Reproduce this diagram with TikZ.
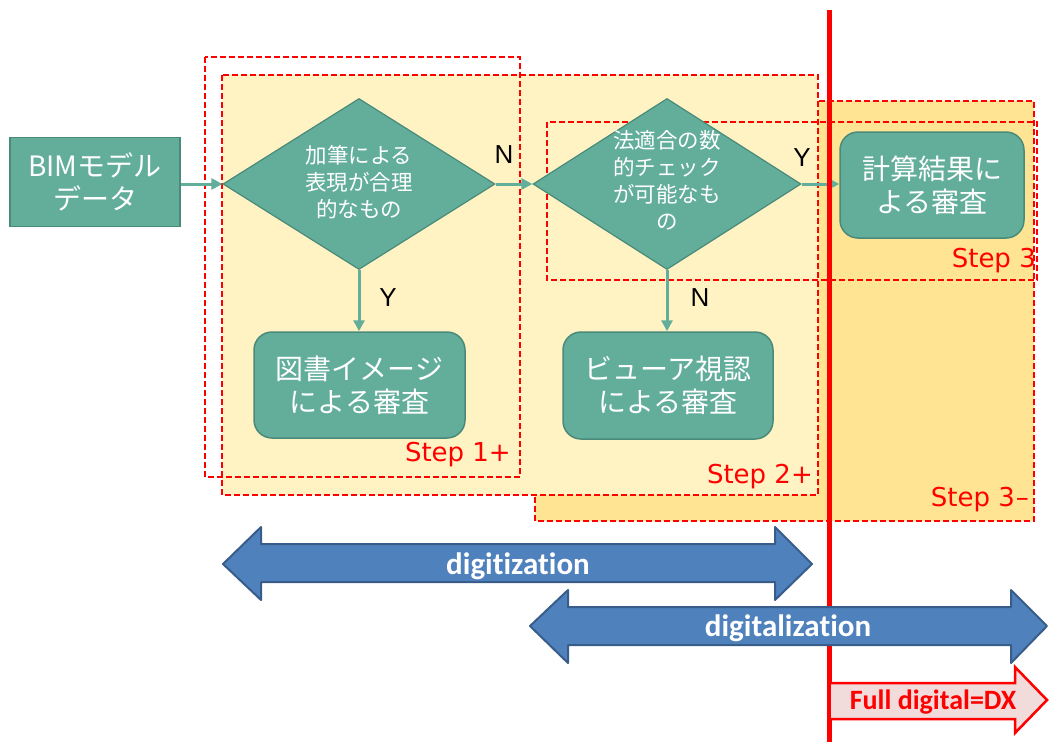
\documentclass[tikz,border=0pt]{standalone}
\usepackage{fontspec}
\usetikzlibrary{shapes.geometric,arrows.meta}
\newfontfamily\jpfont{Noto Sans CJK JP}
\newfontfamily\labfont{Liberation Sans}
\newfontfamily\stepfont{DejaVu Sans}
\newfontfamily\carfont[Ligatures=NoCommon]{Carlito}
\definecolor{teal1}{HTML}{62AE9B}
\definecolor{teal2}{HTML}{4A8A7A}
\definecolor{yel}{HTML}{FFF3C3}
\definecolor{ora}{HTML}{FFE494}
\definecolor{blue1}{HTML}{4F81BD}
\definecolor{blue2}{HTML}{385D8A}
\definecolor{pinkf}{HTML}{F2DCDB}
\tikzset{
  stepbox/.style={draw=red,line width=2pt,dash pattern=on 6pt off 3pt},
  proc/.style={draw=teal2,fill=teal1,line width=1.5pt,text=white,align=center,inner sep=0pt,
    font=\jpfont\fontsize{28pt}{33pt}\selectfont},
  dec/.style={diamond,draw=teal2,fill=teal1,line width=1.2pt,inner sep=0pt},
  dectext/.style={text=white,align=center,inner sep=0pt,
    font=\jpfont\fontsize{21.5pt}{27pt}\selectfont},
  conn/.style={draw=teal1,line width=3pt,-{Triangle[length=11pt,width=11pt]}},
  yn/.style={font=\labfont\fontsize{26pt}{30pt}\selectfont,text=black},
  steplab/.style={font=\stepfont\fontsize{26pt}{30pt}\selectfont,text=red,anchor=east,inner sep=0pt},
  bluearrow/.style={draw=blue2,fill=blue1,line width=2pt,line join=round},
  bluetext/.style={font=\carfont\bfseries\fontsize{31pt}{34pt}\selectfont,text=white}
}
\begin{document}
\begin{tikzpicture}[x=1pt,y=-1pt]
\useasboundingbox (0,0) rectangle (1049,742);
% step regions
\draw[stepbox,fill=ora] (535,101) rectangle (1034,521);
\draw[stepbox,fill=yel] (222,75) rectangle (818,495);
\draw[stepbox] (205,57) rectangle (520,477);
\draw[stepbox] (547,122) rectangle (1037,280);
\node[steplab] (s1) at (511,455) {Step 1+};
\node[steplab] (s2) at (813,477) {Step 2+};
\node[steplab] (s3m) at (1029,500) {Step 3\kern1pt–};
\node[steplab] (s3) at (1036,261) {Step 3};
% nodes
\node[proc,minimum width=170pt,minimum height=89pt] (bim) at (95,182) {BIMモデル\\データ};
\node[dec,minimum width=272pt,minimum height=171pt] (d1) at (359,184) {};
\node[dectext] (d1t) at (359,182) {加筆による\\表現が合理\\的なもの};
\node[dec,minimum width=268pt,minimum height=171pt] (d2) at (667,184) {};
\node[dectext] (d2t) at (667,180) {法適合の数\\的チェック\\が可能なも\\の};
\node[proc,rounded corners=18pt,minimum width=211pt,minimum height=106pt] (b1) at (359.5,385) {図書イメージ\\による審査};
\node[proc,rounded corners=18pt,minimum width=210pt,minimum height=107pt] (b2) at (668,385.5) {ビューア視認\\による審査};
\node[proc,rounded corners=18pt,minimum width=184pt,minimum height=106pt] (b3) at (932,185) {計算結果に\\よる審査};
% connectors
\draw[conn] (bim.east |- d1.west) -- (d1.west);
\draw[conn] (d1.east) -- (d2.west);
\draw[conn] (d2.east) -- (d2.east -| b3.west);
\draw[conn] (d1.south) -- (d1.south |- b1.north);
\draw[conn] (d2.south) -- (d2.south |- b2.north);
\node[yn] (n1) at (504,155) {N};
\node[yn] (y2) at (802,158) {Y};
\node[yn] (y1) at (388,298) {Y};
\node[yn] (n2) at (700,298) {N};
% red line
\draw[red,line width=5pt] (829,10) -- (829,742);
% blue arrows
\draw[bluearrow] (223,564) -- (261,527) -- (261,544) -- (775,544) -- (775,527) -- (812,564)
  -- (775,600) -- (775,582) -- (261,582) -- (261,600) -- cycle;
\node[bluetext] (t1) at (518,566) {digitization};
\draw[bluearrow] (530,626) -- (568,590) -- (568,607) -- (1011,607) -- (1011,590) -- (1047,626)
  -- (1011,663) -- (1011,645) -- (568,645) -- (568,663) -- cycle;
\node[bluetext] (t2) at (788,628) {digitalization};
\draw[draw=red,fill=pinkf,line width=2.5pt,line join=miter] (831,683) -- (1015,683) -- (1015,667) -- (1047,700)
  -- (1015,733) -- (1015,719) -- (831,719);
\node[font=\carfont\bfseries\fontsize{28pt}{30pt}\selectfont,text=red] (t3) at (933,702) {Full digital=DX};
\end{tikzpicture}
\end{document}
